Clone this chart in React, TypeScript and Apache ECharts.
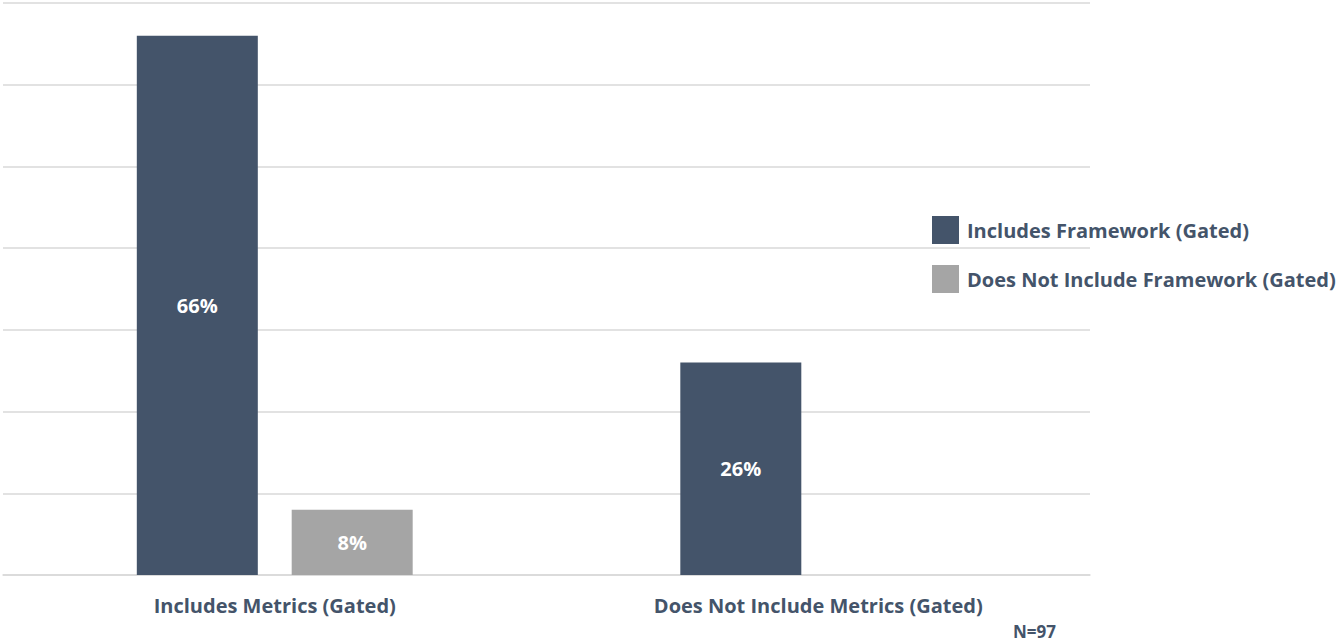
import React, { useEffect, useRef } from "react";
import * as echarts from "echarts";

const categories = ["Includes Metrics (Gated)", "Does Not Include Metrics (Gated)"];
const seriesNames = ["Includes Framework (Gated)", "Does Not Include Framework (Gated)"];
const includesFramework = [66, 26];
const notIncludesFramework: (number | null)[] = [8, null];
const yMax = 70;
const yInterval = 10;
const noteText = "N=97";

const DARK = "#44546A";
const GREY = "#A5A5A5";
const GRID = "#D9D9D9";
const FONT = "'Open Sans', Lato, sans-serif";

export default function App() {
  const ref = useRef<HTMLDivElement>(null);
  useEffect(() => {
    if (!ref.current) return;
    const chart = echarts.init(ref.current, undefined, { renderer: "svg" });
    const label = {
      show: true,
      position: "inside",
      formatter: "{c}%",
      color: "#FFFFFF",
      fontFamily: FONT,
      fontWeight: "bold",
      fontSize: 20,
    };
    chart.setOption({
      animation: false,
      backgroundColor: "#FFFFFF",
      grid: { left: 3, right: 250, top: 3, bottom: 67, containLabel: false },
      legend: {
        orient: "vertical",
        left: 927,
        top: 211,
        itemWidth: 27,
        itemHeight: 28,
        itemGap: 21,
        icon: "rect",
        textStyle: {
          color: DARK,
          fontFamily: FONT,
          fontWeight: "bold",
          fontSize: 20,
          padding: [0, 0, 0, 3],
        },
        data: seriesNames,
      },
      xAxis: {
        type: "category",
        data: categories,
        axisLine: { show: true, lineStyle: { color: GRID, width: 1.5 } },
        axisTick: { show: false },
        axisLabel: {
          color: DARK,
          fontFamily: FONT,
          fontWeight: "bold",
          fontSize: 20,
          margin: 20,
        },
      },
      yAxis: {
        type: "value",
        min: 0,
        max: yMax,
        interval: yInterval,
        axisLabel: { show: false },
        axisLine: { show: false },
        axisTick: { show: false },
        splitLine: { show: true, lineStyle: { color: GRID, width: 1.5 } },
      },
      series: [
        {
          name: seriesNames[0],
          type: "bar",
          data: includesFramework,
          barWidth: 121,
          barGap: "28%",
          itemStyle: { color: DARK },
          label,
        },
        {
          name: seriesNames[1],
          type: "bar",
          data: notIncludesFramework,
          barWidth: 121,
          itemStyle: { color: GREY },
          label,
        },
      ],
      graphic: [
        {
          type: "text",
          left: 1013,
          top: 623,
          style: {
            text: noteText,
            fill: DARK,
            fontFamily: FONT,
            fontWeight: "bold",
            fontSize: 17,
          },
        },
      ],
    });
    return () => chart.dispose();
  }, []);
  return (
    <div
      ref={ref}
      style={{ position: "fixed", left: 0, top: 0, width: 1340, height: 642 }}
    />
  );
}
